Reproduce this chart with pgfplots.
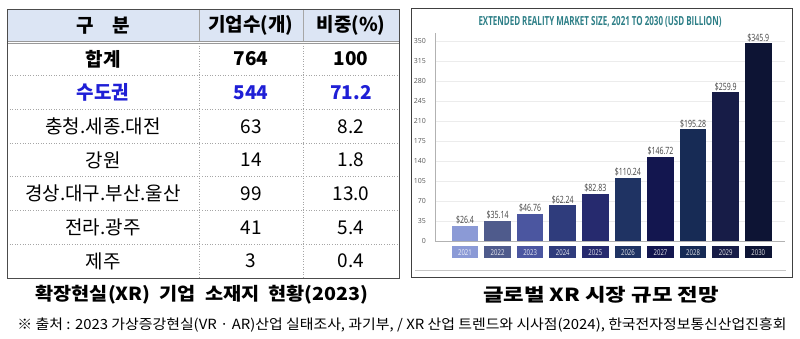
\documentclass[border=0pt]{standalone}
\usepackage{pgfplots}
\pgfplotsset{compat=1.18}
\usepackage{fontspec}
\usepackage{graphicx}
\setmainfont{Noto Sans CJK KR}
\newfontfamily\cf{Open Sans}
\definecolor{hdr}{HTML}{DCE5F4}
\definecolor{bluetxt}{HTML}{1F1FD6}
\definecolor{ttl}{HTML}{2E7F87}
\definecolor{c1}{HTML}{8B9AD6}
\definecolor{c2}{HTML}{4F5B8C}
\definecolor{c3}{HTML}{4B56A0}
\definecolor{c4}{HTML}{2F3C7C}
\definecolor{c5}{HTML}{262A6E}
\definecolor{c6}{HTML}{1F3363}
\definecolor{c7}{HTML}{13164F}
\definecolor{c8}{HTML}{172B55}
\definecolor{c9}{HTML}{171C47}
\definecolor{c10}{HTML}{0D1434}
\newcommand\yb[2]{{\setlength{\fboxsep}{0pt}\colorbox{#1}{\parbox[c][12pt][c]{26.6pt}{\centering\cf\fontsize{8}{9}\selectfont\color{white!88!#1}\scalebox{0.75}[1]{#2}}}}}
\newcommand\tf{\fontsize{19}{22}\selectfont}
\begin{document}
\begin{tikzpicture}
\path[use as bounding box] (0pt,0pt) rectangle (800pt,-339pt);
% ---------- table ----------
\fill[hdr] (7pt,-9pt) rectangle (399pt,-42pt);
\foreach \i in {1,...,6} {
  \draw[gray!70, dotted, line width=0.6pt] (7pt,{-42pt-33.7pt*\i}) -- (399pt,{-42pt-33.7pt*\i});
}
\draw[gray!70, line width=0.6pt] (199pt,-9pt) -- (199pt,-41pt);
\draw[gray!70, line width=0.6pt] (303pt,-9pt) -- (303pt,-41pt);
\draw[gray!70, dotted, line width=0.6pt] (199pt,-43pt) -- (199pt,-278pt);
\draw[gray!70, dotted, line width=0.6pt] (303pt,-43pt) -- (303pt,-278pt);
\draw[gray!80, line width=0.6pt] (7pt,-41pt) -- (399pt,-41pt);
\draw[gray!80, line width=0.6pt] (7pt,-43.5pt) -- (399pt,-43.5pt);
\draw[black!70, line width=0.8pt] (7pt,-9pt) rectangle (399pt,-278pt);
\node at (103pt,-25.5pt) {\tf\bfseries 구\quad 분};
\node at (251pt,-25.5pt) {\tf\bfseries 기업수(개)};
\node at (351pt,-25.5pt) {\tf\bfseries 비중(\%)};
\foreach \a/\b/\c [count=\i from 0] in {
  {\bfseries 합계}/{\bfseries 764}/{\bfseries 100},
  {\bfseries\color{bluetxt}수도권}/{\bfseries\color{bluetxt}544}/{\bfseries\color{bluetxt}71.2},
  충청.세종.대전/63/8.2,
  강원/14/1.8,
  경상.대구.부산.울산/99/13.0,
  전라.광주/41/5.4,
  제주/3/0.4} {
  \node at (103pt,{-42pt-33.7pt*(\i+0.5)}) {\tf\a};
  \node at (251pt,{-42pt-33.7pt*(\i+0.5)}) {\tf\b};
  \node at (351pt,{-42pt-33.7pt*(\i+0.5)}) {\tf\c};
}
\node at (202pt,-295pt) {\resizebox{333pt}{\height}{\fontsize{18}{21}\selectfont\bfseries 확장현실(XR)\ \ 기업\ \ 소재지\ \ 현황(2023)}};
% ---------- chart panel ----------
\draw[black!75, line width=0.8pt] (411pt,-8pt) rectangle (792pt,-277pt);
\draw[gray!45, line width=0.8pt] (415pt,-270pt) -- (786pt,-270pt);
\node at (600pt,-22pt) {\color{ttl}\cf\fontsize{12.5}{14}\selectfont\bfseries\resizebox{243pt}{\height}{EXTENDED REALITY MARKET SIZE, 2021 TO 2030 (USD BILLION)}};
\begin{axis}[
  at={(435pt,-241pt)}, anchor=south west,
  scale only axis, width=350pt, height=208pt,
  xmin=-0.92, xmax=9.82, ymin=0, ymax=364,
  axis lines*=left, axis line style={-, draw=gray!60, line width=0.6pt},
  ytick={0,35,...,350},
  ymajorgrids, grid style={gray!15, line width=0.9pt},
  major tick length=0pt,
  /pgf/number format/assume math mode=true,
  yticklabel style={font=\cf\fontsize{7}{8}\selectfont, text=black!65, inner sep=0pt, xshift=-9pt},
  xtick={0,...,9},
  xticklabels={\yb{c1}{2021},\yb{c2}{2022},\yb{c3}{2023},\yb{c4}{2024},\yb{c5}{2025},\yb{c6}{2026},\yb{c7}{2027},\yb{c8}{2028},\yb{c9}{2029},\yb{c10}{2030}},
  xticklabel style={anchor=north, inner sep=0pt, yshift=-5pt},
  ybar, bar width=26.6pt, bar shift=0pt,
  nodes near coords={\scalebox{0.7}[1]{\pgfplotspointmeta}},
  point meta=explicit symbolic,
  every node near coord/.append style={font=\cf\fontsize{10}{11}\selectfont, text=black!75, inner sep=1.5pt, anchor=south},
  clip=false,
]
\addplot[fill=c1, draw=none] coordinates {(0,26.4) [\$26.4]};
\addplot[fill=c2, draw=none] coordinates {(1,35.14) [\$35.14]};
\addplot[fill=c3, draw=none] coordinates {(2,46.76) [\$46.76]};
\addplot[fill=c4, draw=none] coordinates {(3,62.24) [\$62.24]};
\addplot[fill=c5, draw=none] coordinates {(4,82.83) [\$82.83]};
\addplot[fill=c6, draw=none] coordinates {(5,110.24) [\$110.24]};
\addplot[fill=c7, draw=none] coordinates {(6,146.72) [\$146.72]};
\addplot[fill=c8, draw=none] coordinates {(7,195.28) [\$195.28]};
\addplot[fill=c9, draw=none] coordinates {(8,259.9) [\$259.9]};
\addplot[fill=c10, draw=none] coordinates {(9,345.9) [\$345.9]};
\end{axis}
\node at (601pt,-295pt) {\resizebox{236pt}{\height}{\fontsize{18}{21}\selectfont\bfseries 글로벌 XR 시장 규모 전망}};
% ---------- footnote ----------
\node at (402pt,-325pt) {\resizebox{769pt}{\height}{\fontsize{14}{16}\selectfont ※ 출처 : 2023 가상증강현실(VR · AR)산업 실태조사, 과기부, / XR 산업 트렌드와 시사점(2024), 한국전자정보통신산업진흥회}};
\end{tikzpicture}
\end{document}
